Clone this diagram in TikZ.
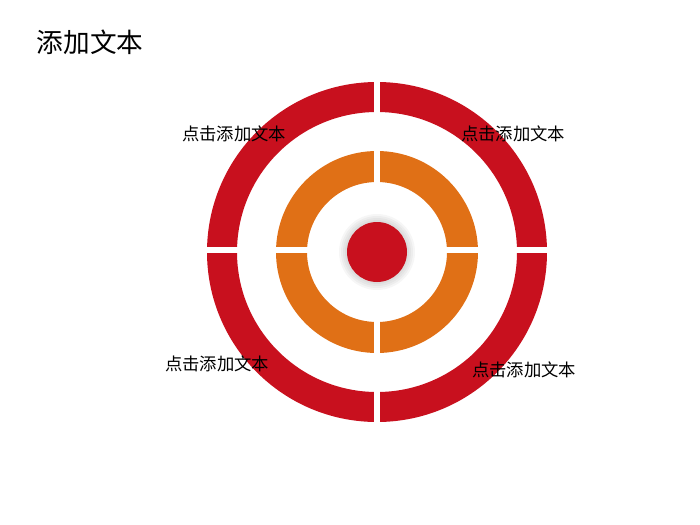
\documentclass[tikz,border=0pt]{standalone}
\usepackage{fontspec}
\newfontfamily\cjk{Noto Sans CJK SC}
\usetikzlibrary{positioning}
\definecolor{ringred}{RGB}{200,16,30}
\definecolor{ringorange}{RGB}{224,112,22}

\begin{document}
\begin{tikzpicture}[x=0.75pt,y=-0.75pt,
	txt/.style={font=\cjk\fontsize{13}{13}\selectfont},
	gap/.style={white,line width=5pt}]
	\useasboundingbox (0,0) rectangle (700,525);
	\coordinate (c) at (377,252);
	
	% rings
	\fill[ringred,even odd rule] (c) circle[radius=170] (c) circle[radius=140];
	\fill[ringorange,even odd rule] (c) circle[radius=101] (c) circle[radius=70];
	\draw[gap] (c) ++(0,-176) -- ++(0,352);
	\draw[gap] (c) ++(-176,-2) -- ++(352,0);
	
	% bull's eye
	\foreach \r in {38,36,34,32}
		\fill[black,opacity=0.035,shift={(3,5)}] (c) circle[radius=\r];
	\fill[ringred] (c) circle[radius=30];
	
	\node[anchor=west,font=\cjk\fontsize{20}{20}\selectfont] (title) at (32,42) {添加文本};
	\node[txt] (t1) at (234,134) {点击添加文本};
	\node[txt] (t2) at (513,134) {点击添加文本};
	\node[txt] (t3) at (217,364) {点击添加文本};
	\node[txt] (t4) at (524,370) {点击添加文本};
\end{tikzpicture}
\end{document}
